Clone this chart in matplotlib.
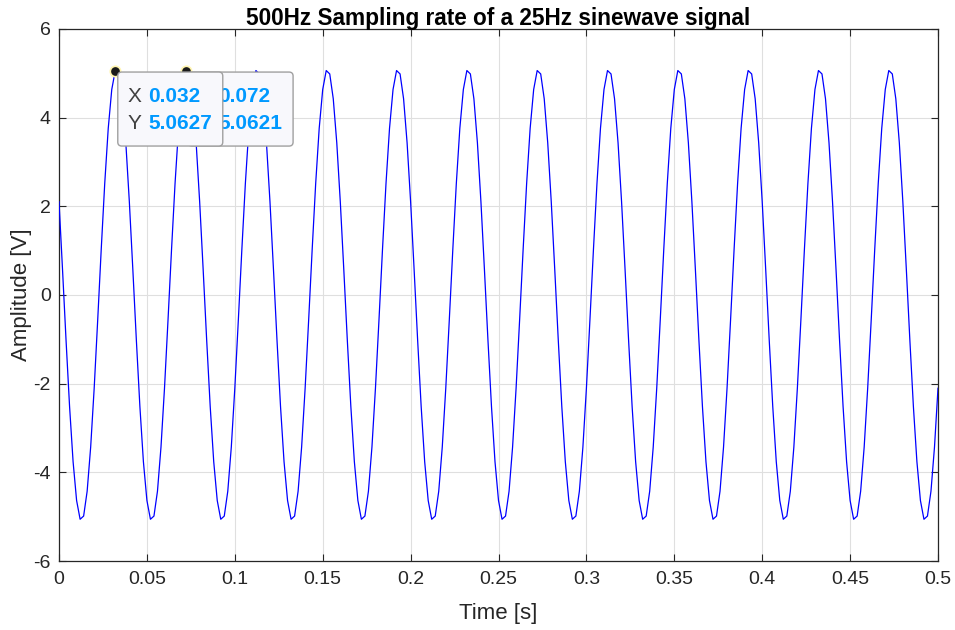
import matplotlib
matplotlib.use("Agg")
import matplotlib.pyplot as plt
import matplotlib.transforms as mtrans
from matplotlib.patches import FancyBboxPatch, Rectangle
import numpy as np

plt.rcParams['font.family'] = ['Liberation Sans', 'DejaVu Sans']
plt.rcParams['axes.unicode_minus'] = False

# --- data: 500 Hz samples, one 25 Hz period (20 samples) ---
fs = 500
n_samples = 251
period_values = [2.103, 0.567, -1.023, -2.514, -3.759, -4.635, -5.058, -4.986,
                 -4.426, -3.432, -2.103, -0.567, 1.023, 2.514, 3.759, 4.635,
                 5.0627, 4.986, 4.426, 3.432]
t = np.arange(n_samples) / fs
y = np.resize(period_values, n_samples)

# data tips shown on the figure (the later one is drawn on top)
tip_x = [0.072, 0.032]
tip_y = [5.0621, 5.0627]

xticks = [0, 0.05, 0.1, 0.15, 0.2, 0.25, 0.3, 0.35, 0.4, 0.45, 0.5]
xtick_labels = ['0', '0.05', '0.1', '0.15', '0.2', '0.25', '0.3', '0.35', '0.4', '0.45', '0.5']
yticks = [-6, -4, -2, 0, 2, 4, 6]

fig = plt.figure(figsize=(9.55, 6.3), dpi=100)
ax = fig.add_axes([0.0618, 0.1095, 0.9204, 0.8445])

ax.plot(t, y, color='#0000ff', linewidth=0.9, zorder=3)

ax.set_xlim(0, 0.5)
ax.set_ylim(-6, 6)
ax.set_xticks(xticks)
ax.set_xticklabels(xtick_labels)
ax.set_yticks(yticks)
ax.grid(True, color='#dfdfdf', linewidth=0.8)
ax.set_axisbelow(True)

dark = '#262626'
for s in ax.spines.values():
    s.set_color(dark)
    s.set_linewidth(0.9)
ax.tick_params(direction='in', length=5, width=0.8, color=dark, labelcolor=dark,
               labelsize=14, top=True, right=True)
ax.tick_params(axis='x', pad=7)
ax.tick_params(axis='y', pad=6)

ax.set_xlabel('Time [s]', fontsize=16, color=dark, labelpad=11)
ax.set_ylabel('Amplitude [V]', fontsize=16, color=dark, labelpad=1)
ax.set_title('500Hz Sampling rate of a 25Hz sinewave signal', fontsize=16.3,
             fontweight='bold', color='black', pad=3)

# --- data tips ---
def tip_trans(px, py):
    return fig.dpi_scale_trans + mtrans.ScaledTranslation(px, py, ax.transData)

# area of the lower tip that the upper tip does not cover
tr_top = tip_trans(tip_x[-1], tip_y[-1])
visible = Rectangle((1.076, -1.0), 3.0, 1.2, transform=tr_top)

for i, (px, py) in enumerate(zip(tip_x, tip_y)):
    z = 5 + 4 * i
    tr = tip_trans(px, py)
    box = FancyBboxPatch((0.025, -0.755), 1.05, 0.74,
                         boxstyle='round,pad=0,rounding_size=0.04',
                         facecolor='#f8f8fc', edgecolor='#a0a0a0',
                         linewidth=1.0, transform=tr, zorder=z, clip_on=False)
    ax.add_patch(box)
    labels = []
    labels.append(ax.text(0.125, -0.255, 'X', transform=tr, fontsize=15,
                          color='#404040', va='center', ha='left', zorder=z + 1))
    labels.append(ax.text(0.33, -0.255, f'{px:g}', transform=tr, fontsize=15,
                          color='#0099ff', fontweight='bold', va='center',
                          ha='left', zorder=z + 1))
    labels.append(ax.text(0.125, -0.525, 'Y', transform=tr, fontsize=15,
                          color='#404040', va='center', ha='left', zorder=z + 1))
    labels.append(ax.text(0.33, -0.525, f'{py:.4f}', transform=tr, fontsize=15,
                          color='#0099ff', fontweight='bold', va='center',
                          ha='left', zorder=z + 1))
    if i < len(tip_x) - 1:
        for lab in labels:
            lab.set_clip_path(visible)
    ax.plot([px], [py], marker='o', markersize=7.5, markerfacecolor='#1a1a1a',
            markeredgecolor='#fff5b0', markeredgewidth=1.2, zorder=z - 1,
            clip_on=False)

fig.savefig('out.png', dpi=100)
